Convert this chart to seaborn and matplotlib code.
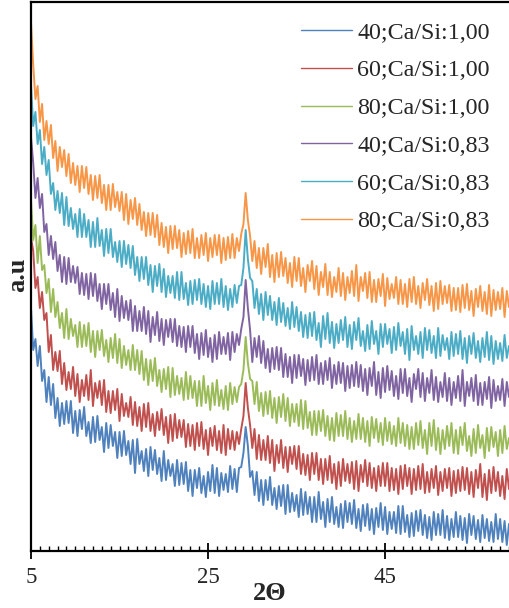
import numpy as np
import pandas as pd
import matplotlib
matplotlib.use("Agg")
import matplotlib.pyplot as plt
import seaborn as sns
from matplotlib.lines import Line2D
from matplotlib.ticker import FixedLocator, MultipleLocator

# Scan grid: 5-59 degrees 2-theta, 0.25 degree step
theta = np.linspace(5.0, 59.0, 217)

labels = ["40;Ca/Si:1,00", "60;Ca/Si:1,00", "80;Ca/Si:1,00",
          "40;Ca/Si:0,83", "60;Ca/Si:0,83", "80;Ca/Si:0,83"]
colors = ["#4F81BD", "#C0504D", "#9BBB59", "#8064A2", "#4BACC6", "#F79646"]

# Stacked intensities (a.u.), twelve readings (three degrees) per row
i_40_100 = [
    243, 201, 212, 185, 205, 170, 181, 149, 174, 146, 167, 133,
    153, 125, 148, 127, 150, 128, 150, 118, 140, 115, 141, 122,
    144, 115, 129, 108, 134, 109, 135, 111, 124, 99, 128, 103,
    126, 105, 119, 93, 119, 95, 120, 96, 110, 87, 111, 78,
    112, 87, 100, 80, 102, 75, 104, 81, 101, 77, 93, 70,
    100, 71, 91, 75, 87, 65, 91, 66, 88, 67, 89, 60,
    81, 55, 81, 63, 83, 58, 75, 54, 79, 60, 86, 58,
    83, 55, 78, 61, 77, 59, 85, 62, 82, 59, 83, 84,
    98, 124, 105, 74, 80, 56, 79, 50, 71, 46, 71, 51,
    74, 46, 63, 42, 65, 45, 66, 37, 66, 39, 58, 40,
    56, 34, 62, 36, 59, 37, 54, 29, 54, 29, 59, 32,
    49, 24, 52, 29, 54, 27, 44, 24, 47, 23, 50, 29,
    48, 27, 51, 23, 42, 20, 46, 25, 47, 21, 42, 17,
    43, 24, 48, 21, 44, 17, 39, 22, 39, 18, 45, 17,
    45, 19, 36, 14, 38, 15, 40, 20, 41, 16, 36, 13,
    34, 11, 39, 16, 37, 16, 41, 13, 35, 11, 32, 14,
    39, 14, 35, 11, 33, 8, 37, 16, 35, 12, 31, 9,
    36, 13, 32, 10, 29, 9, 37, 12, 32, 9, 30, 6,
    27,
]
i_60_100 = [
    313, 300, 263, 274, 243, 259, 231, 238, 199, 216, 181, 199,
    180, 200, 167, 188, 161, 179, 162, 184, 155, 177, 149, 171,
    155, 176, 151, 181, 145, 168, 153, 170, 146, 171, 139, 160,
    138, 160, 141, 162, 130, 157, 135, 148, 134, 154, 126, 149,
    125, 144, 120, 147, 124, 148, 120, 137, 115, 139, 121, 142,
    116, 134, 108, 136, 110, 137, 113, 131, 114, 131, 104, 127,
    105, 126, 101, 128, 105, 129, 102, 121, 96, 123, 105, 125,
    101, 120, 98, 126, 96, 122, 102, 120, 101, 119, 107, 122,
    135, 168, 143, 126, 103, 122, 92, 116, 91, 111, 91, 115,
    88, 111, 80, 106, 88, 111, 83, 104, 79, 104, 87, 105,
    82, 105, 77, 97, 76, 96, 71, 98, 77, 98, 71, 92,
    67, 92, 71, 95, 68, 87, 62, 89, 65, 92, 70, 87,
    68, 89, 62, 90, 60, 86, 69, 91, 65, 88, 63, 83,
    60, 85, 65, 88, 65, 88, 60, 83, 61, 82, 57, 85,
    62, 86, 65, 83, 57, 82, 61, 85, 62, 87, 58, 79,
    59, 82, 63, 85, 56, 79, 60, 82, 63, 83, 55, 80,
    58, 81, 60, 84, 61, 83, 57, 79, 54, 81, 63, 87,
    54, 77, 51, 81, 58, 84, 60, 79, 55, 75, 52, 82,
    62,
]
i_80_100 = [
    351, 311, 326, 288, 315, 281, 286, 258, 272, 239, 262, 234,
    249, 223, 238, 213, 242, 212, 232, 215, 226, 204, 229, 204,
    226, 205, 228, 199, 220, 194, 220, 201, 221, 195, 211, 189,
    213, 193, 217, 188, 212, 183, 205, 186, 201, 181, 206, 181,
    201, 177, 200, 171, 192, 166, 191, 170, 193, 165, 181, 159,
    182, 162, 184, 154, 183, 156, 175, 157, 173, 151, 179, 152,
    175, 153, 170, 145, 170, 145, 175, 148, 165, 141, 168, 146,
    171, 145, 161, 142, 165, 141, 168, 147, 164, 149, 164, 167,
    181, 214, 188, 172, 170, 147, 169, 140, 158, 135, 159, 137,
    160, 133, 153, 128, 154, 134, 157, 130, 153, 125, 147, 129,
    147, 125, 151, 122, 150, 123, 139, 116, 140, 116, 140, 120,
    141, 115, 135, 111, 133, 110, 138, 115, 136, 115, 140, 112,
    133, 109, 130, 112, 137, 112, 133, 109, 130, 105, 134, 113,
    132, 109, 128, 106, 133, 110, 129, 107, 125, 105, 133, 108,
    128, 105, 126, 102, 124, 102, 128, 106, 130, 103, 121, 97,
    128, 105, 131, 101, 123, 97, 121, 102, 125, 105, 128, 98,
    121, 97, 124, 106, 128, 100, 115, 95, 122, 98, 126, 103,
    116, 93, 123, 100, 124, 104, 119, 95, 121, 98, 125, 102,
    113,
]
i_40_083 = [
    414, 388, 353, 373, 343, 357, 319, 327, 296, 315, 292, 309,
    280, 296, 269, 294, 267, 293, 269, 285, 268, 284, 257, 278,
    256, 277, 252, 278, 255, 277, 250, 267, 242, 267, 247, 267,
    241, 258, 234, 262, 230, 255, 233, 250, 231, 251, 220, 245,
    220, 240, 220, 244, 217, 240, 209, 234, 216, 239, 210, 232,
    206, 231, 214, 232, 209, 232, 205, 225, 204, 224, 199, 225,
    204, 225, 198, 217, 192, 218, 196, 221, 194, 213, 189, 216,
    192, 219, 197, 214, 197, 218, 191, 219, 199, 217, 206, 222,
    234, 271, 243, 221, 189, 213, 194, 215, 188, 210, 183, 202,
    179, 203, 182, 204, 181, 203, 174, 197, 174, 194, 168, 196,
    173, 196, 175, 192, 166, 191, 170, 194, 171, 196, 167, 188,
    167, 190, 171, 193, 163, 186, 167, 189, 168, 188, 160, 185,
    163, 186, 165, 189, 164, 186, 160, 182, 156, 183, 165, 189,
    156, 179, 153, 183, 159, 185, 161, 180, 155, 175, 152, 182,
    158, 182, 155, 173, 149, 177, 162, 182, 154, 178, 150, 173,
    158, 181, 151, 174, 149, 169, 154, 178, 150, 173, 146, 169,
    153, 175, 150, 181, 145, 169, 155, 173, 150, 176, 146, 168,
    146, 169, 152, 174, 143, 171, 150, 165, 151, 172, 145, 169,
    154,
]
i_60_083 = [
    466, 425, 439, 407, 421, 387, 404, 376, 391, 357, 368, 341,
    360, 338, 358, 326, 354, 325, 343, 322, 337, 314, 342, 314,
    337, 314, 331, 304, 329, 304, 333, 305, 321, 295, 322, 298,
    322, 294, 309, 289, 310, 284, 310, 287, 306, 283, 305, 276,
    294, 270, 294, 272, 294, 266, 286, 259, 285, 265, 287, 259,
    282, 254, 275, 258, 275, 253, 279, 251, 279, 252, 268, 246,
    270, 247, 271, 251, 272, 247, 267, 244, 265, 242, 270, 247,
    268, 247, 272, 244, 265, 241, 262, 244, 266, 248, 265, 266,
    283, 321, 292, 273, 270, 243, 262, 237, 257, 231, 259, 236,
    255, 231, 249, 226, 253, 229, 248, 225, 243, 222, 249, 224,
    244, 220, 239, 214, 236, 213, 238, 215, 239, 211, 228, 204,
    235, 212, 238, 208, 229, 203, 227, 208, 231, 211, 234, 204,
    226, 202, 229, 211, 233, 205, 220, 200, 226, 202, 230, 207,
    220, 197, 227, 204, 227, 207, 222, 198, 224, 201, 228, 205,
    219, 197, 222, 191, 225, 201, 215, 197, 219, 193, 223, 201,
    221, 198, 215, 193, 223, 195, 216, 201, 213, 192, 219, 195,
    217, 197, 220, 192, 213, 188, 215, 197, 218, 193, 210, 189,
    213, 194, 219, 191, 215, 187, 210, 192, 208, 190, 216, 193,
    205,
]
i_80_083 = [
    528, 486, 452, 465, 429, 447, 411, 430, 407, 426, 393, 410,
    380, 404, 384, 401, 375, 397, 368, 388, 366, 385, 359, 385,
    363, 384, 357, 376, 351, 375, 353, 376, 348, 366, 341, 366,
    341, 367, 344, 359, 340, 359, 331, 357, 327, 351, 332, 353,
    326, 347, 321, 339, 315, 338, 316, 338, 314, 336, 306, 328,
    304, 324, 298, 325, 302, 325, 303, 321, 294, 318, 297, 320,
    298, 322, 293, 313, 293, 316, 296, 318, 290, 313, 294, 316,
    296, 316, 288, 313, 291, 314, 293, 317, 293, 313, 300, 317,
    327, 358, 331, 315, 290, 310, 283, 303, 277, 303, 284, 307,
    274, 296, 269, 298, 274, 299, 275, 293, 268, 288, 264, 294,
    270, 293, 265, 283, 259, 286, 270, 290, 262, 285, 256, 279,
    264, 287, 256, 279, 254, 274, 259, 283, 255, 278, 251, 274,
    258, 280, 255, 286, 250, 274, 260, 278, 253, 279, 249, 271,
    249, 272, 255, 277, 245, 273, 252, 267, 253, 274, 247, 271,
    247, 267, 244, 272, 249, 274, 247, 265, 243, 268, 251, 272,
    246, 265, 240, 268, 242, 270, 247, 265, 248, 266, 240, 263,
    241, 263, 239, 266, 243, 267, 241, 260, 235, 262, 244, 265,
    240, 259, 237, 266, 235, 261, 241, 259, 242, 263, 234, 260,
    244,
]

series = [i_40_100, i_60_100, i_80_100, i_40_083, i_60_083, i_80_083]
for s in series:
    assert len(s) == len(theta), len(s)

df = pd.concat(
    [pd.DataFrame({"theta": theta, "intensity": s, "sample": lab})
     for s, lab in zip(series, labels)],
    ignore_index=True,
)

sns.set_style("white")
plt.rcParams["font.family"] = ["Liberation Serif", "DejaVu Serif"]

W, H = 509, 608
fig = plt.figure(figsize=(W / 100, H / 100), dpi=100)
ax = fig.add_axes([31 / W, 57 / H, 478 / W, 549 / H])

sns.lineplot(data=df, x="theta", y="intensity", hue="sample",
             hue_order=labels, palette=colors, estimator=None, sort=False,
             linewidth=1.4, ax=ax, legend=False)

ax.set_xlim(5, 59)
ax.set_ylim(0, 549)
ax.xaxis.set_major_locator(FixedLocator([5, 25, 45]))
ax.xaxis.set_minor_locator(MultipleLocator(1))
ax.set_yticks([])
ax.tick_params(axis="x", which="major", direction="inout", length=11,
               width=1.3, color="black", labelsize=16.5, pad=6,
               bottom=True)
ax.tick_params(axis="x", which="minor", direction="in", length=3.6,
               width=1.0, color="black", bottom=True)

for side in ("left", "bottom", "top"):
    ax.spines[side].set_visible(True)
    ax.spines[side].set_color("black")
    ax.spines[side].set_linewidth(1.6)
ax.spines["right"].set_visible(False)

ax.set_xlabel("2Θ", fontsize=19, fontweight="bold")
ax.xaxis.set_label_coords(0.5, -0.056)
ax.set_ylabel("")
fig.text(18 / W, 1 - 275 / H, "a.u", rotation=90, ha="center", va="center",
         fontsize=19, fontweight="bold")

handles = [Line2D([], [], color=c, linewidth=1.0) for c in colors]
ax.legend(handles, labels, loc="upper left",
          bbox_to_anchor=(301 / W, 1 - 22 / H),
          bbox_transform=fig.transFigure, frameon=False, fontsize=17.3,
          handlelength=2.12, handletextpad=0.22, labelspacing=0.66,
          borderpad=0, borderaxespad=0)

fig.savefig("out.png", dpi=100)
